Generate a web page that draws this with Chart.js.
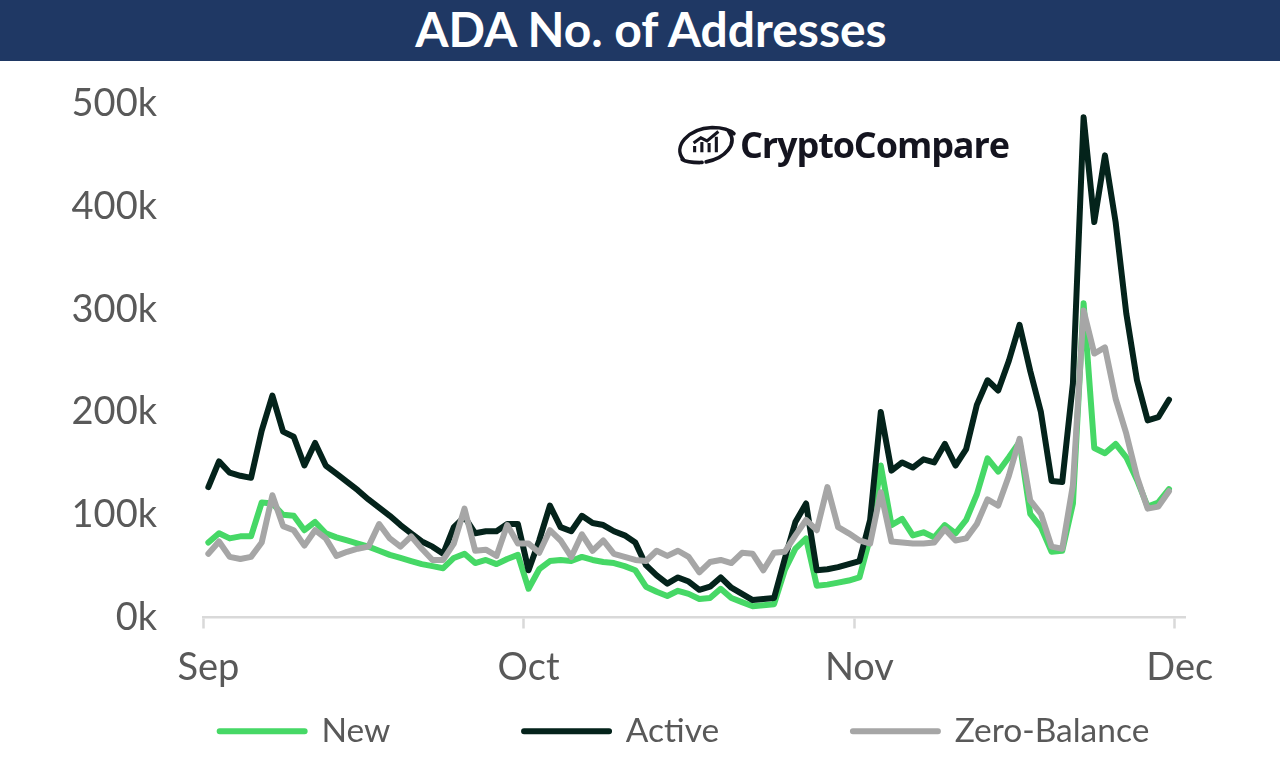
<!DOCTYPE html>
<html>
<head>
<meta charset="utf-8">
<title>ADA No. of Addresses</title>
<script src="https://cdn.jsdelivr.net/npm/chart.js@4"></script>
<style>
  html, body { margin: 0; padding: 0; background: #fff; overflow: hidden; height: 759px; }
  #header {
    height: 61px; line-height: 60px; background: #1f3864; color: #fff;
    font: bold 48px Lato, sans-serif; text-align: center; padding-left: 22px; box-sizing: border-box;
  }
  #logo { position: absolute; left: 675px; top: 120px; display: flex; align-items: center; filter: blur(0.4px); color: #14141f; }
  #logo span { font: bold 36px "Open Sans", sans-serif; letter-spacing: -1.1px; margin-left: 3px; }
  canvas { position: absolute; left: 0; top: 62px; }
</style>
</head>
<body>
<div id="header">ADA No. of Addresses</div>
<canvas id="addressChart" width="1280" height="696"></canvas>
<div id="logo">
  <svg width="62" height="46" viewBox="0 0 60 44">
    <path d="M8 36 C-2 24 12 6 36 5 C46 5 53 7 57 11" fill="none" stroke="#14141f" stroke-width="3.5" stroke-linecap="round"/>
    <path d="M52 9 C62 22 46 38 24 39 C16 39 10 38 7 36" fill="none" stroke="#14141f" stroke-width="3.5" stroke-linecap="round" stroke-dasharray="44 4 60"/>
    <path d="M19 29 V23 M26 29 V19 M33 29 V20 M40 29 V14 M18 20 L25 15 L31 18 L42 9" fill="none" stroke="#14141f" stroke-width="3"/>
  </svg>
  <span>CryptoCompare</span>
</div>

<script>
const monthNames = ["Sep", "Oct", "Nov", "Dec"];
const monthLengths = [30, 31, 30, 1];
const yTicks = [0, 100, 200, 300, 400, 500];

// thousands of addresses, one value per day from 1 Sep to 30 Nov
const newAddresses = [
  73, 82, 77, 79, 79, 112, 111, 100, 99, 85, 93, 82, 78, 75, 72, 69, 65, 61, 58, 55,
  52, 50, 48, 58, 62, 53, 56, 52, 57, 61, 28, 47, 55, 56, 55, 59, 56, 54, 53, 50,
  46, 30, 25, 21, 26, 23, 18, 19, 28, 19, 15, 11, 12, 13, 46, 67, 77, 31, 32, 34,
  36, 39, 78, 148, 90, 96, 80, 83, 78, 90, 82, 95, 120, 155, 142, 156, 171, 101, 88, 64,
  65, 111, 306, 165, 160, 169, 156, 134, 108, 112, 125,
];
const activeAddresses = [
  127, 152, 141, 138, 136, 182, 216, 181, 176, 148, 170, 148, 140, 132, 124, 115, 107, 99, 90, 82,
  74, 69, 62, 88, 98, 82, 84, 84, 91, 91, 46, 75, 109, 88, 84, 99, 92, 90, 84, 80,
  73, 51, 41, 33, 39, 35, 27, 30, 39, 29, 23, 17, 18, 19, 57, 93, 111, 46, 47, 49,
  52, 55, 95, 200, 143, 151, 146, 154, 151, 169, 148, 164, 207, 231, 221, 250, 285, 240, 200, 133,
  132, 228, 487, 385, 450, 385, 296, 231, 192, 195, 212,
];
const zeroBalanceAddresses = [
  62, 74, 59, 57, 59, 73, 119, 89, 85, 70, 85, 77, 60, 64, 67, 69, 91, 77, 69, 79,
  67, 56, 56, 72, 106, 65, 66, 60, 90, 72, 72, 63, 85, 75, 59, 81, 65, 75, 62, 59,
  56, 55, 65, 60, 65, 59, 44, 54, 56, 53, 63, 62, 46, 63, 64, 80, 95, 85, 127, 88,
  82, 75, 72, 122, 74, 73, 72, 72, 73, 86, 75, 77, 91, 115, 109, 138, 174, 114, 101, 69,
  67, 129, 299, 257, 263, 213, 179, 137, 106, 108, 123,
];

document.addEventListener("DOMContentLoaded", () => {
  // one category per day, only the first day of a month gets a label
  const categories = [];
  const monthStarts = [];
  monthNames.forEach((name, m) => {
    monthStarts.push(categories.length);
    for (let d = 1; d <= monthLengths[m]; d++) categories.push(name + " " + d);
  });

  const textColor = "#595959";
  const axisColor = "#d9d9d9";

  // y labels sit left of the layout padding, so widen the box they get clipped to
  const widenYAxisClip = {
    id: "widenYAxisClip",
    afterLayout: (chart) => { chart.scales.y.left = 0; },
  };

  new Chart(document.getElementById("addressChart").getContext("2d"), {
    type: "line",
    plugins: [widenYAxisClip],
    data: {
      labels: categories,
      datasets: [
        { label: "New", data: newAddresses, borderColor: "#46d866", backgroundColor: "#46d866", order: 3 },
        { label: "Active", data: activeAddresses, borderColor: "#04231b", backgroundColor: "#04231b", order: 2 },
        { label: "Zero-Balance", data: zeroBalanceAddresses, borderColor: "#a6a6a6", backgroundColor: "#a6a6a6", order: 1 },
      ],
    },
    options: {
      responsive: false,
      animation: false,
      events: [],
      // left padding is uneven on purpose, the legend centres between the paddings
      layout: { padding: { top: 42, left: 184, right: 95 } },
      elements: {
        point: { radius: 0 },
        line: { borderWidth: 6, tension: 0, borderCapStyle: "round", borderJoinStyle: "round" },
      },
      scales: {
        x: {
          offset: true,
          afterFit: (scale) => {
            scale.height = 81;
            scale.paddingLeft = 0;
            scale.paddingRight = 0;
          },
          border: { color: axisColor, width: 2.5 },
          grid: {
            offset: true,
            drawOnChartArea: false,
            tickLength: 11,
            tickWidth: 2.5,
            tickColor: (ctx) => (monthStarts.includes(ctx.index) ? axisColor : "rgba(0,0,0,0)"),
          },
          ticks: {
            autoSkip: false,
            maxRotation: 0,
            padding: 16,
            color: textColor,
            font: { family: "Lato", size: 38 },
            callback: (value, index) => {
              const m = monthStarts.indexOf(index);
              return m >= 0 ? monthNames[m] : "";
            },
          },
        },
        y: {
          min: yTicks[0],
          max: yTicks[yTicks.length - 1],
          afterFit: (scale) => {
            scale.width = 19;
            scale.paddingTop = 0;
            scale.paddingBottom = 0;
          },
          afterBuildTicks: (scale) => { scale.ticks = yTicks.map((value) => ({ value })); },
          border: { display: false },
          grid: { display: false, drawTicks: false },
          ticks: {
            padding: 46,
            color: textColor,
            font: { family: "Lato", size: 38 },
            callback: (value) => value + "k",
          },
        },
      },
      plugins: {
        tooltip: { enabled: false },
        legend: {
          position: "bottom",
          labels: {
            boxWidth: 85,
            boxHeight: 0,
            padding: 16,
            color: textColor,
            font: { family: "Lato", size: 33.5 },
            // empty items between the real ones keep the wide gaps without a tall legend box
            generateLabels: (chart) => {
              const items = Chart.defaults.plugins.legend.labels.generateLabels(chart);
              items.sort((a, b) => a.datasetIndex - b.datasetIndex);
              const spaced = [];
              items.forEach((item, i) => {
                if (i > 0) spaced.push({ text: "", fillStyle: "rgba(0,0,0,0)", strokeStyle: "rgba(0,0,0,0)", lineWidth: 0 });
                spaced.push(item);
              });
              return spaced;
            },
          },
        },
      },
    },
  });
});
</script>
</body>
</html>
